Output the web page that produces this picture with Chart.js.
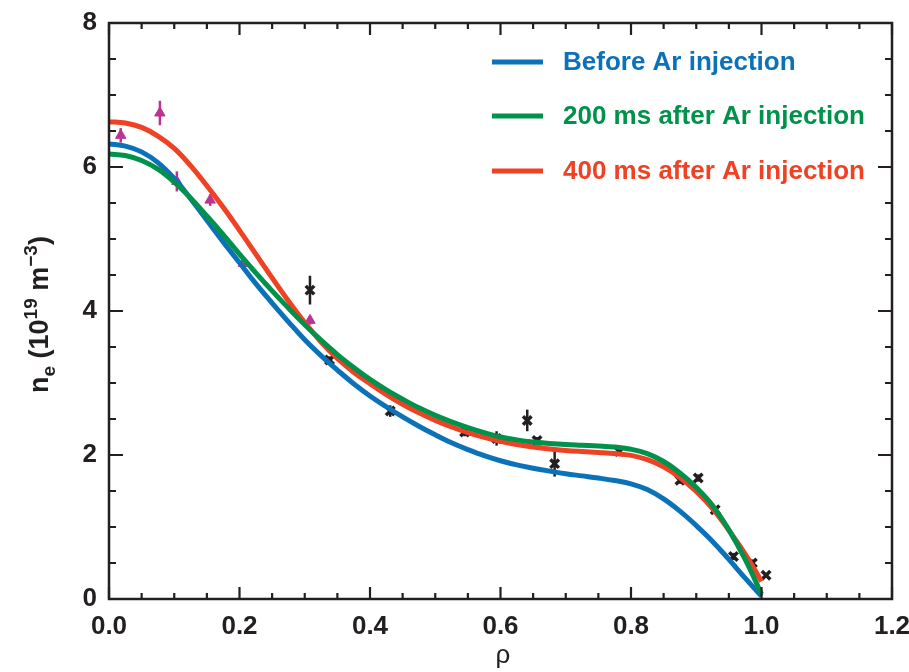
<!DOCTYPE html>
<html>
<head>
<meta charset="utf-8">
<script src="https://cdn.jsdelivr.net/npm/chart.js@4.4.1/dist/chart.umd.min.js"></script>
<style>
  html, body { margin: 0; padding: 0; background: #fff; }
  #wrap { width: 909px; height: 672px; }
</style>
</head>
<body>
<div id="wrap"><canvas id="grafico" width="909" height="672"></canvas></div>
<script>
  // Perfiles ajustados (rho cada 0.025)
  const rho = [0, 0.025, 0.05, 0.075, 0.1, 0.125, 0.15, 0.175, 0.2, 0.225,
               0.25, 0.275, 0.3, 0.325, 0.35, 0.375, 0.4, 0.425, 0.45, 0.475,
               0.5, 0.525, 0.55, 0.575, 0.6, 0.625, 0.65, 0.675, 0.7, 0.725,
               0.75, 0.775, 0.8, 0.825, 0.85, 0.875, 0.9, 0.925, 0.95, 0.975, 1.0];
  const antes   = [6.32, 6.29, 6.21, 6.06, 5.84, 5.56, 5.26, 4.96, 4.67, 4.38,
                   4.11, 3.85, 3.60, 3.38, 3.18, 2.99, 2.82, 2.67, 2.53, 2.40,
                   2.28, 2.17, 2.075, 1.99, 1.92, 1.862, 1.817, 1.777, 1.74, 1.71,
                   1.68, 1.645, 1.60, 1.52, 1.39, 1.22, 1.02, 0.80, 0.55, 0.29, 0.04];
  const tras200 = [6.18, 6.16, 6.09, 5.97, 5.79, 5.57, 5.32, 5.06, 4.79, 4.53,
                   4.28, 4.04, 3.81, 3.595, 3.395, 3.215, 3.05, 2.905, 2.775, 2.655,
                   2.55, 2.46, 2.38, 2.31, 2.25, 2.21, 2.18, 2.16, 2.145, 2.135,
                   2.125, 2.11, 2.08, 2.02, 1.91, 1.75, 1.55, 1.30, 0.96, 0.55, 0.07];
  const tras400 = [6.63, 6.61, 6.55, 6.43, 6.26, 6.02, 5.74, 5.44, 5.12, 4.79,
                   4.46, 4.14, 3.84, 3.57, 3.34, 3.15, 2.99, 2.84, 2.705, 2.585,
                   2.48, 2.39, 2.31, 2.245, 2.19, 2.145, 2.11, 2.083, 2.063, 2.048,
                   2.035, 2.02, 1.995, 1.935, 1.835, 1.685, 1.495, 1.255, 0.955, 0.625, 0.245];
  const etiquetas = ['Before Ar injection', '200 ms after Ar injection', '400 ms after Ar injection'];
  const colores = ['#0b72b9', '#00914b', '#ef4123'];

  // Mediciones (triángulos y cruces) con barras de error
  const rhoTri = [0.018, 0.078, 0.104, 0.155, 0.206, 0.308];
  const neTri  = [6.44, 6.75, 5.80, 5.54, 4.66, 3.87];
  const errTri = [0.10, 0.17, 0.14, 0.08, 0.06, 0.06];
  const rhoCruz = [0.308, 0.338, 0.431, 0.545, 0.594, 0.641, 0.656, 0.683, 0.782,
                   0.875, 0.903, 0.929, 0.957, 0.986, 1.007];
  const neCruz  = [4.29, 3.32, 2.61, 2.32, 2.23, 2.48, 2.20, 1.88, 2.05,
                   1.65, 1.68, 1.24, 0.59, 0.50, 0.33];
  const errCruz = [0.20, 0.05, 0.08, 0.06, 0.10, 0.15, 0.05, 0.18, 0.05,
                   0.05, 0.05, 0.05, 0.05, 0.05, 0.03];

  const ticksX = [0, 0.2, 0.4, 0.6, 0.8, 1.0, 1.2];
  const ticksY = [0, 2, 4, 6, 8];

  const FUENTE = "'Liberation Sans', Arial, sans-serif";
  const NEGRO = '#231f20';

  const pares = (xs, ys) => xs.map((x, i) => ({ x: x, y: ys[i] }));

  function curva(i, datos, orden) {
    return {
      type: 'line',
      label: etiquetas[i],
      data: pares(rho, datos),
      borderColor: colores[i],
      borderWidth: 5,
      pointRadius: 0,
      tension: 0.4,
      fill: false,
      order: orden
    };
  }

  // Barras de error, marco con ticks hacia dentro, leyenda y títulos
  const marco = {
    id: 'marco',
    beforeDatasetsDraw(chart) {
      const c = chart.ctx, sx = chart.scales.x, sy = chart.scales.y;
      c.save();
      c.lineWidth = 2.5;
      const barras = (xs, ys, es, color) => {
        c.strokeStyle = color;
        xs.forEach((x, i) => {
          const px = sx.getPixelForValue(x);
          c.beginPath();
          c.moveTo(px, sy.getPixelForValue(ys[i] - es[i]));
          c.lineTo(px, sy.getPixelForValue(ys[i] + es[i]));
          c.stroke();
        });
      };
      barras(rhoTri, neTri, errTri, '#bd3394');
      barras(rhoCruz, neCruz, errCruz, NEGRO);
      c.restore();
    },
    afterDraw(chart) {
      const c = chart.ctx, a = chart.chartArea, sx = chart.scales.x, sy = chart.scales.y;
      c.save();
      c.strokeStyle = NEGRO;
      c.lineWidth = 2.5;
      c.strokeRect(a.left, a.top, a.right - a.left, a.bottom - a.top);

      c.lineWidth = 2.2;
      c.beginPath();
      for (let k = 0; k <= 24; k++) {
        const px = sx.getPixelForValue(k * 0.05);
        const largo = k % 4 === 0 ? 12 : 6;
        c.moveTo(px, a.bottom); c.lineTo(px, a.bottom - largo);
        c.moveTo(px, a.top); c.lineTo(px, a.top + largo);
      }
      for (let k = 0; k <= 16; k++) {
        const py = sy.getPixelForValue(k * 0.5);
        const largo = k % 4 === 0 ? 14 : 7;
        c.moveTo(a.left, py); c.lineTo(a.left + largo, py);
        c.moveTo(a.right, py); c.lineTo(a.right - largo, py);
      }
      c.stroke();

      // Leyenda
      const filas = [62, 116, 171];
      c.lineWidth = 5;
      c.textBaseline = 'middle';
      c.textAlign = 'left';
      c.font = 'bold 26px ' + FUENTE;
      filas.forEach((y, i) => {
        c.strokeStyle = colores[i];
        c.beginPath(); c.moveTo(492, y); c.lineTo(543, y); c.stroke();
        c.fillStyle = colores[i];
        c.fillText(etiquetas[i], 563, y + 1);
      });

      // Título eje x
      c.fillStyle = NEGRO;
      c.textAlign = 'center';
      c.textBaseline = 'alphabetic';
      c.font = '26px ' + FUENTE;
      c.fillText('ρ', 503, 663);

      // Título eje y: n_e (10^19 m^-3)
      c.translate(48, 393);
      c.rotate(-Math.PI / 2);
      c.textAlign = 'left';
      const partes = [
        ['n', 27, 0], ['e', 19, 7], [' (10', 27, 0], ['19', 19, -11],
        [' m', 27, 0], ['\u22123', 19, -11], [')', 27, 0]
      ];
      let x = 0;
      partes.forEach(([t, tam, dy]) => {
        c.font = 'bold ' + tam + 'px ' + FUENTE;
        c.fillText(t, x, dy);
        x += c.measureText(t).width;
      });
      c.restore();
    }
  };

  const ctx = document.getElementById('grafico').getContext('2d');
  const grafico = new Chart(ctx, {
    data: {
      datasets: [
        {
          type: 'scatter',
          label: 'tri',
          data: pares(rhoTri, neTri),
          pointStyle: 'triangle',
          pointRadius: 6,
          backgroundColor: '#bd3394',
          borderColor: '#bd3394',
          borderWidth: 1,
          order: 10
        },
        {
          type: 'scatter',
          label: 'cruz',
          data: pares(rhoCruz, neCruz),
          pointStyle: 'crossRot',
          pointRadius: 6,
          borderColor: NEGRO,
          borderWidth: 3.5,
          order: 9
        },
        curva(0, antes, 3),
        curva(2, tras400, 2),
        curva(1, tras200, 1)
      ]
    },
    options: {
      responsive: false,
      animation: false,
      layout: { padding: { top: 23, right: 17, left: 0, bottom: 0 } },
      plugins: { legend: { display: false }, tooltip: { enabled: false } },
      scales: {
        x: {
          type: 'linear',
          min: 0, max: 1.2,
          afterFit: s => { s.height = 73; s.paddingLeft = 0; s.paddingRight = 0; },
          afterBuildTicks: s => { s.ticks = ticksX.map(v => ({ value: v })); },
          grid: { display: false, drawTicks: false },
          border: { display: false },
          ticks: {
            padding: 12,
            color: NEGRO,
            font: { family: FUENTE, size: 26, weight: 'bold' },
            maxRotation: 0,
            callback: v => v.toFixed(1)
          }
        },
        y: {
          min: 0, max: 8,
          afterFit: s => { s.width = 109; s.paddingTop = 0; s.paddingBottom = 0; },
          afterBuildTicks: s => { s.ticks = ticksY.map(v => ({ value: v })); },
          grid: { display: false, drawTicks: false },
          border: { display: false },
          ticks: {
            padding: 12,
            color: NEGRO,
            font: { family: FUENTE, size: 26, weight: 'bold' },
            callback: v => String(v)
          }
        }
      }
    },
    plugins: [marco]
  });
</script>
</body>
</html>
